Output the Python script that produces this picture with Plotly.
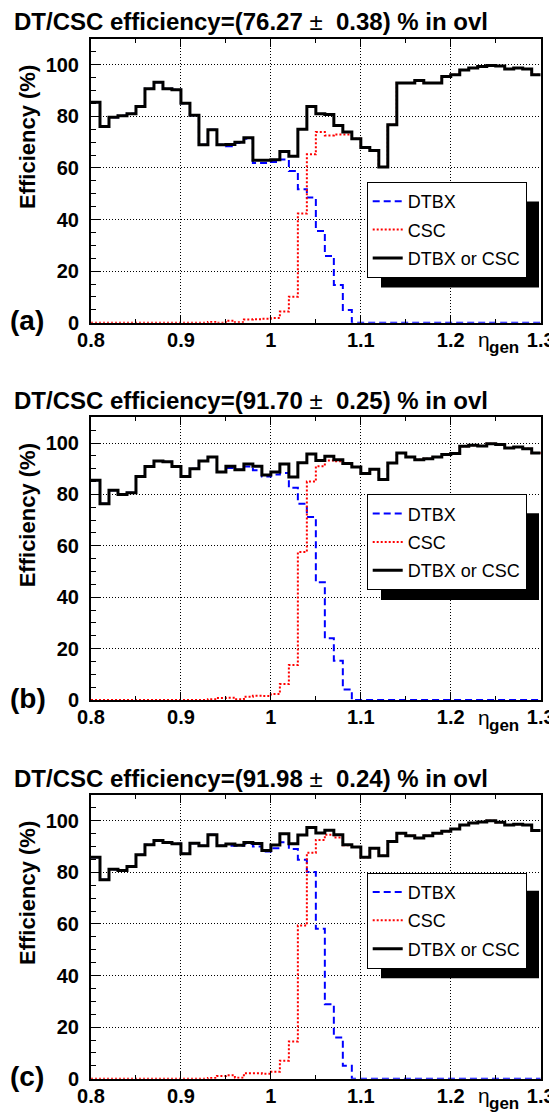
import plotly.graph_objects as go

# ---------------- data ----------------
eta_edges = [0.80, 0.81, 0.82, 0.83, 0.84, 0.85, 0.86, 0.87, 0.88, 0.89,
             0.90, 0.91, 0.92, 0.93, 0.94, 0.95, 0.96, 0.97, 0.98, 0.99,
             1.00, 1.01, 1.02, 1.03, 1.04, 1.05, 1.06, 1.07, 1.08, 1.09,
             1.10, 1.11, 1.12, 1.13, 1.14, 1.15, 1.16, 1.17, 1.18, 1.19,
             1.20, 1.21, 1.22, 1.23, 1.24, 1.25, 1.26, 1.27, 1.28, 1.29,
             1.30]

x_tick_vals = [0.8, 0.9, 1.0, 1.1, 1.2, 1.3]
x_tick_text = ["0.8", "0.9", "1", "1.1", "1.2", "1.3"]
y_tick_vals = [0, 20, 40, 60, 80, 100]

series_names = ["DTBX", "CSC", "DTBX or CSC"]
panel_tags = ["(a)", "(b)", "(c)"]
eff_values = ["76.27", "91.70", "91.98"]
eff_errors = ["0.38", "0.25", "0.24"]

# panel (a)
dtbx_a = [85.5, 76.1, 79.7, 80.2, 81.0, 83.8, 90.7, 93.2, 90.7, 90.3,
          85.1, 80.4, 69.0, 74.8, 69.0, 68.4, 69.7, 71.3, 61.9, 61.9,
          62.3, 63.3, 58.8, 51.7, 48.5, 35.6, 25.9, 14.6, 4.9, 0.0,
          0.0, 0.0, 0.0, 0.0, 0.0, 0.0, 0.0, 0.0, 0.0, 0.0,
          0.0, 0.0, 0.0, 0.0, 0.0, 0.0, 0.0, 0.0, 0.0, 0.0]
csc_a = [0.0, 0.0, 0.0, 0.0, 0.0, 0.0, 0.0, 0.0, 0.0, 0.0,
         0.0, 0.0, 0.0, 0.3, 0.0, 0.8, 0.2, 1.2, 1.3, 1.5,
         1.8, 4.3, 10.1, 42.3, 65.3, 73.9, 72.6, 73.0, 73.0, 71.3,
         67.9, 66.8, 60.4, 76.8, 92.9, 92.9, 93.9, 92.9, 92.9, 95.5,
         96.1, 98.0, 98.8, 99.3, 99.7, 99.5, 98.4, 98.8, 98.4, 96.1]
or_a = [85.5, 76.1, 79.7, 80.2, 81.0, 83.8, 90.7, 93.2, 90.7, 90.3,
        85.1, 80.4, 69.0, 74.8, 69.0, 69.1, 70.0, 71.7, 63.0, 63.0,
        63.2, 66.4, 64.5, 75.0, 83.8, 81.0, 80.7, 76.5, 73.9, 71.3,
        67.9, 66.8, 60.4, 76.8, 92.9, 92.9, 93.9, 92.9, 92.9, 95.5,
        96.1, 98.0, 98.8, 99.3, 99.7, 99.5, 98.4, 98.8, 98.4, 96.1]

# panel (b)
dtbx_b = [85.5, 76.4, 81.6, 80.0, 80.6, 87.0, 90.9, 93.0, 92.7, 90.9,
          87.0, 90.0, 93.0, 94.6, 88.7, 90.3, 89.6, 90.9, 89.4, 87.0,
          87.7, 88.3, 82.6, 76.4, 71.2, 45.8, 24.0, 15.3, 4.1, 0.0,
          0.0, 0.0, 0.0, 0.0, 0.0, 0.0, 0.0, 0.0, 0.0, 0.0,
          0.0, 0.0, 0.0, 0.0, 0.0, 0.0, 0.0, 0.0, 0.0, 0.0]
csc_b = [0.0, 0.0, 0.0, 0.0, 0.0, 0.0, 0.0, 0.0, 0.0, 0.0,
         0.0, 0.0, 0.0, 0.3, 0.8, 0.9, 0.3, 1.3, 1.7, 1.6,
         2.3, 6.2, 13.6, 57.6, 85.0, 91.0, 93.2, 92.9, 91.8, 90.7,
         88.1, 89.8, 85.8, 92.2, 96.1, 94.6, 93.5, 93.9, 94.6, 95.5,
         95.9, 98.7, 99.1, 98.8, 99.7, 99.4, 98.1, 98.4, 97.8, 96.1]
or_b = [85.5, 76.4, 81.6, 80.0, 80.6, 87.0, 90.9, 93.0, 92.7, 90.9,
        87.0, 90.0, 93.0, 94.6, 88.7, 91.0, 89.6, 91.8, 91.0, 87.5,
        88.7, 91.8, 86.8, 92.3, 95.7, 93.2, 94.8, 93.5, 92.0, 90.7,
        88.1, 89.8, 85.8, 92.2, 96.1, 94.6, 93.5, 93.9, 94.6, 95.5,
        95.9, 98.7, 99.1, 98.8, 99.7, 99.4, 98.1, 98.4, 97.8, 96.1]

# panel (c)
dtbx_c = [85.9, 77.1, 81.2, 80.7, 82.3, 86.8, 90.7, 92.4, 91.6, 91.1,
          87.2, 91.3, 90.3, 94.6, 90.3, 90.3, 90.3, 91.1, 90.0, 88.1,
          89.4, 91.7, 89.1, 84.9, 80.1, 58.1, 28.9, 16.0, 5.0, 0.0,
          0.0, 0.0, 0.0, 0.0, 0.0, 0.0, 0.0, 0.0, 0.0, 0.0,
          0.0, 0.0, 0.0, 0.0, 0.0, 0.0, 0.0, 0.0, 0.0, 0.0]
csc_c = [0.0, 0.0, 0.0, 0.0, 0.0, 0.0, 0.0, 0.0, 0.0, 0.0,
         0.0, 0.0, 0.0, 0.3, 1.0, 1.3, 0.4, 2.1, 2.1, 1.9,
         2.7, 7.0, 14.4, 59.4, 87.6, 92.6, 94.6, 93.5, 90.5, 89.8,
         85.9, 89.4, 86.4, 92.0, 95.2, 94.2, 93.3, 94.2, 95.2, 95.9,
         96.8, 98.4, 99.1, 99.5, 100.0, 99.4, 98.4, 98.7, 98.4, 96.2]
or_c = [85.9, 77.1, 81.2, 80.7, 82.3, 86.8, 90.7, 92.4, 91.6, 91.1,
        87.2, 91.3, 90.3, 94.6, 90.3, 91.0, 90.5, 91.6, 91.2, 88.5,
        90.6, 95.0, 91.1, 94.5, 97.4, 95.3, 96.3, 94.6, 90.7, 89.8,
        85.9, 89.4, 86.4, 92.0, 95.2, 94.2, 93.3, 94.2, 95.2, 95.9,
        96.8, 98.4, 99.1, 99.5, 100.0, 99.4, 98.4, 98.7, 98.4, 96.2]

panels = [(dtbx_a, csc_a, or_a), (dtbx_b, csc_b, or_b), (dtbx_c, csc_c, or_c)]

# ---------------- layout geometry (page pixels) ----------------
PAGE_W, PAGE_H = 557, 1113
OFF = 8                      # default page margin around the figure
W, H = PAGE_W - OFF, PAGE_H - OFF
PL, PR = 91, 540.7
TOPS = [39, 417.3, 795]
BOTS = [322.7, 700, 1078.7]
LEG_TOPS = [182, 494.3, 872.7]
SHADOWS = [(381, 201.5, 539, 287.5), (381, 513.3, 539, 600), (381, 890.7, 539, 978.3)]

FONT = "Liberation Sans, Arial, Helvetica, sans-serif"


def fx(X):
    return (X - OFF) / W


def fy(Y):
    return 1 - (Y - OFF) / H


def step(vals):
    return list(vals) + [vals[-1]]


fig = go.Figure()
styles = [
    dict(color="#0000ff", width=2, dash="7px,4px"),
    dict(color="#ff0000", width=2, dash="2px,2px"),
    dict(color="#000000", width=3),
]

annotations = []
shapes = []
layout_axes = {}

for i, series in enumerate(panels):
    sfx = "" if i == 0 else str(i + 1)
    lg = "legend" + sfx
    for j, vals in enumerate(series):
        fig.add_trace(go.Scatter(
            x=eta_edges, y=step(vals), mode="lines",
            line=dict(shape="hv", **styles[j]),
            name=series_names[j], xaxis="x" + sfx, yaxis="y" + sfx,
            legend=lg, legendgroup=f"g{i}{j}", hoverinfo="skip",
        ))

    tickfont = dict(family=FONT, size=20, color="black", weight="bold")
    layout_axes["xaxis" + sfx] = dict(
        domain=[fx(PL), fx(PR)], range=[0.8, 1.3], anchor="y" + sfx,
        tickvals=x_tick_vals, ticktext=x_tick_text,
        ticks="inside", ticklen=8, tickwidth=1, tickcolor="black",
        minor=dict(ticks="inside", dtick=0.05, tick0=0.8, ticklen=4,
                   tickcolor="black", tickwidth=1, showgrid=False),
        showgrid=True, gridcolor="black", gridwidth=1, griddash="1px,2px",
        showline=True, linecolor="black", linewidth=2, mirror="ticks",
        zeroline=False, tickfont=tickfont, ticklabelstandoff=-2,
        automargin=False,
    )
    layout_axes["yaxis" + sfx] = dict(
        domain=[fy(BOTS[i]), fy(TOPS[i])], range=[0, 110], anchor="x" + sfx,
        tickvals=y_tick_vals,
        ticks="inside", ticklen=9, tickwidth=1, tickcolor="black",
        minor=dict(ticks="inside", dtick=5, tick0=0, ticklen=5,
                   tickcolor="black", tickwidth=1, showgrid=False),
        showgrid=True, gridcolor="black", gridwidth=1, griddash="1px,2px",
        showline=True, linecolor="black", linewidth=2, mirror=True,
        zeroline=False, tickfont=tickfont, ticklabelstandoff=6,
        automargin=False,
    )
    layout_axes[lg] = dict(
        x=fx(366.7), y=fy(LEG_TOPS[i]), xanchor="left", yanchor="top",
        bgcolor="white", bordercolor="black", borderwidth=1,
        font=dict(family=FONT, size=18, color="black"),
        tracegroupgap=2, itemwidth=30,
    )

    dy = TOPS[i] - TOPS[0]
    # panel title
    annotations.append(dict(
        xref="paper", yref="paper", x=fx(12), y=fy(22 + dy),
        xanchor="left", yanchor="middle", showarrow=False,
        text=f"<b>DT/CSC efficiency=({eff_values[i]}</b> ± <b> {eff_errors[i]}) % in ovl</b>",
        font=dict(family=FONT, size=24, color="black"),
    ))
    # y title
    annotations.append(dict(
        xref="paper", yref="paper", x=fx(27), y=fy(137 + dy),
        xanchor="center", yanchor="middle", showarrow=False, textangle=-90,
        text="<b>Efficiency (%)</b>",
        font=dict(family=FONT, size=22, color="black"),
    ))
    # panel tag
    annotations.append(dict(
        xref="paper", yref="paper", x=fx(8), y=fy(320 + dy),
        xanchor="left", yanchor="middle", showarrow=False,
        text=f"<b>{panel_tags[i]}</b>",
        font=dict(family=FONT, size=28, color="black"),
    ))
    # x title eta_gen
    annotations.append(dict(
        xref="paper", yref="paper", x=fx(476), y=fy(BOTS[i] + 17),
        xanchor="left", yanchor="middle", showarrow=False,
        text="η", font=dict(family=FONT, size=21, color="black"),
    ))
    annotations.append(dict(
        xref="paper", yref="paper", x=fx(487), y=fy(BOTS[i] + 25),
        xanchor="left", yanchor="middle", showarrow=False,
        text="<b>gen</b>", font=dict(family=FONT, size=17, color="black"),
    ))
    # legend shadow
    x0, y0, x1, y1 = SHADOWS[i]
    shapes.append(dict(
        type="rect", xref="paper", yref="paper",
        x0=fx(x0), x1=fx(x1), y0=fy(y1), y1=fy(y0),
        fillcolor="black", line=dict(width=0), layer="above",
    ))

fig.update_layout(
    width=W, height=H,
    margin=dict(l=0, r=0, t=0, b=0, pad=0, autoexpand=False),
    paper_bgcolor="white", plot_bgcolor="white",
    showlegend=True, annotations=annotations, shapes=shapes,
    **layout_axes,
)

fig.write_html("out.html")
